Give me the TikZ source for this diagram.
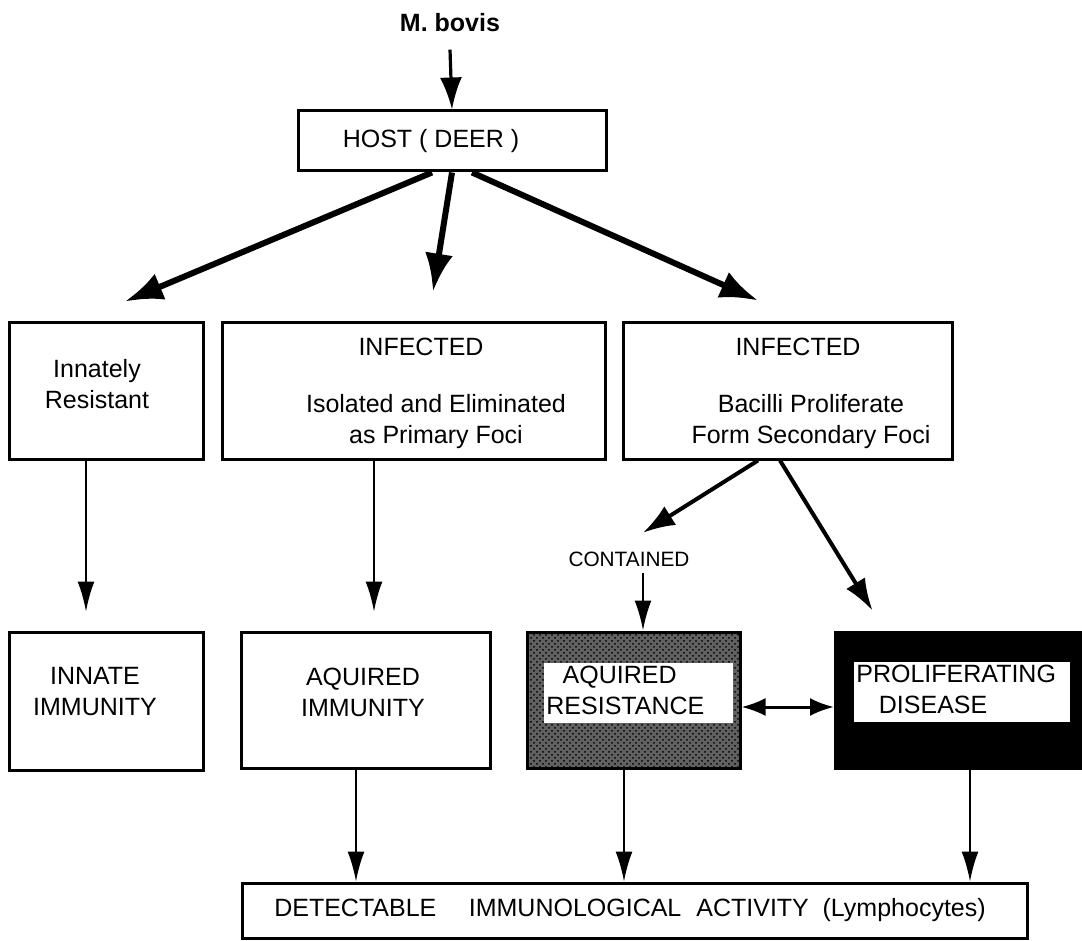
\documentclass[tikz,border=0pt]{standalone}
\usepackage{fontspec}
\setmainfont{Liberation Sans}
\usepackage{tikz}
\usetikzlibrary{arrows.meta,patterns}
\tikzstyle{box} = [rectangle, draw=black, line width=1.5pt, inner sep=0pt]
\tikzstyle{inner} = [rectangle, fill=white, inner sep=0pt, minimum height=30pt]
\tikzstyle{txt} = [inner sep=0pt, align=center, font=\fontsize{12.5}{15.5}\selectfont]
\tikzstyle{arrow} = [line width=1pt,-{Latex[length=15pt,width=8.5pt]}]
\tikzstyle{midarrow} = [line width=2pt,-{Latex[length=16pt,width=11pt]}]
\tikzstyle{bigarrow} = [line width=3pt,-{Latex[length=19pt,width=14pt]}]

\begin{document}
\begin{tikzpicture}[x=0.5pt,y=-0.5pt]
\useasboundingbox (0,0) rectangle (1082,941);
\node (host) [box, minimum width=154pt, minimum height=30pt] at (452,141) {};
\node (resist) [box, minimum width=97pt, minimum height=68pt] at (106,391) {};
\node (elim) [box, minimum width=191.5pt, minimum height=68pt] at (413.5,391) {};
\node (prolif) [box, minimum width=164.5pt, minimum height=68pt] at (787.5,391) {};
\node (innate) [box, minimum width=97pt, minimum height=69pt] at (106,701) {};
\node (aquired) [box, minimum width=124.5pt, minimum height=68pt] at (365.5,700) {};
\node (resistance) [box, preaction={fill=black!62}, pattern=crosshatch dots, minimum width=106.5pt, minimum height=68pt] at (633.5,700) {};
\node (disease) [box, fill=black, minimum width=122.5pt, minimum height=68pt] at (958,700) {};
\node (detect) [box, minimum width=392.5pt, minimum height=27.5pt] at (634.5,910.5) {};
\node (resistance-in) [inner, minimum width=94.5pt] at (638.5,693) {};
\node (disease-in) [inner, minimum width=108pt] at (962,692) {};

\node (bovis) [txt, font=\bfseries\fontsize{12.5}{15}\selectfont] at (450,23) {M. bovis};
\node (host-t) [txt] at (431,141) {HOST ( DEER )};
\node (resist-t) [txt] at (97,384) {Innately\\Resistant};
\node (inf1) [txt] at (421,347) {INFECTED};
\node (elim-t) [txt] at (436,422) {Isolated and Eliminated\\as Primary Foci};
\node (inf2) [txt] at (798,347) {INFECTED};
\node (prolif-t) [txt] at (811,422) {Bacilli Proliferate\\Form Secondary Foci};
\node (contained) [txt, font=\fontsize{10.4}{12}\selectfont] at (629,559) {CONTAINED};
\node (innate-t) [txt] at (95,692) {INNATE\\IMMUNITY};
\node (aquired-t) [txt] at (363,692) {AQUIRED\\IMMUNITY};
\node (resistance-t) [txt, align=left, anchor=west] at (546,690) {\hspace*{0.65em}AQUIRED\\RESISTANCE};
\node (disease-t) [txt, align=left, anchor=west] at (856,689) {PROLIFERATING\\\hspace*{0.9em}DISEASE};
\node (detect-t) [txt] at (630,910) {DETECTABLE\hspace{1.3em}IMMUNOLOGICAL\hspace{0.6em}ACTIVITY\hspace{0.55em}(Lymphocytes)};

\draw[midarrow, line width=1.6pt] ([yshift=-8.5pt]bovis.south) -- (host.north);
\draw[bigarrow] ([xshift=-10pt]host.south) -- ([xshift=9.5pt,yshift=10pt]resist.north);
\draw[bigarrow] (host.south) -- ([xshift=9.75pt,yshift=15pt]elim.north);
\draw[bigarrow] ([xshift=10pt]host.south) -- ([xshift=-14.75pt,yshift=10.5pt]prolif.north);
\draw[arrow] ([xshift=-10pt]resist.south) -- ([xshift=-10pt,yshift=9.5pt]innate.north);
\draw[arrow] ([xshift=-19.75pt]elim.south) -- ([xshift=4.25pt,yshift=9.5pt]aquired.north);
\draw[midarrow] ([xshift=-14.75pt]prolif.south) -- ([xshift=7pt,yshift=9.25pt]contained.north);
\draw[midarrow] ([xshift=-3.75pt]prolif.south) -- ([xshift=-42.75pt,yshift=10pt]disease.north);
\draw[arrow, line width=1.2pt] ([xshift=7pt,yshift=-3pt]contained.south) -- ([xshift=4.75pt]resistance.north);
\draw[{Latex[length=12pt,width=9pt]}-{Latex[length=12pt,width=9pt]}, line width=1.5pt] ([yshift=-3.5pt]resistance.east) -- ([yshift=-3.5pt]disease.west);
\draw[arrow] ([xshift=-4.75pt]aquired.south) -- ([xshift=-139.25pt]detect.north);
\draw[arrow] ([xshift=-4.75pt]resistance.south) -- ([xshift=-5.25pt]detect.north);
\draw[arrow] ([xshift=6pt]disease.south) -- ([xshift=167.75pt]detect.north);
\end{tikzpicture}
\end{document}
